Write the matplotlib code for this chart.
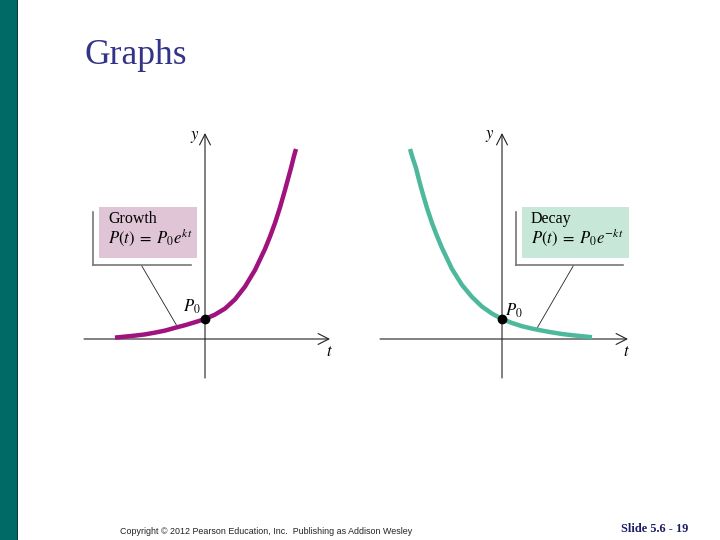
import matplotlib
matplotlib.use("Agg")
from matplotlib import pyplot as plt
from matplotlib.patches import Rectangle

# values (t, P(t)), P0 = 1
growth_t = [-4.5, -4.0, -3.5, -3.0, -2.5, -2.0, -1.5, -1.0, -0.5, 0.0,
            0.5, 1.0, 1.5, 2.0, 2.5, 3.0, 3.25, 3.5, 3.75, 4.0, 4.15, 4.3, 4.45, 4.55]
growth_p = [0.07, 0.12, 0.17, 0.23, 0.32, 0.42, 0.56, 0.69, 0.84, 1.0,
            1.22, 1.52, 1.98, 2.62, 3.45, 4.5, 5.12, 5.8, 6.58, 7.45, 8.0, 8.55, 9.15, 9.5]

decay_t = [-4.6, -4.45, -4.3, -4.15, -4.0, -3.75, -3.5, -3.25, -3.0, -2.5, -2.0, -1.5,
           -1.0, -0.5, 0.0, 0.5, 1.0, 1.5, 2.0, 2.5, 3.0, 3.5, 4.0, 4.5]
decay_p = [9.5, 9.0, 8.55, 7.95, 7.4, 6.55, 5.8, 5.15, 4.55, 3.5, 2.7, 2.1,
           1.62, 1.27, 1.0, 0.8, 0.64, 0.52, 0.42, 0.33, 0.25, 0.19, 0.14, 0.09]

p0 = 1.0

plt.rcParams["mathtext.fontset"] = "stix"
SERIF = "Liberation Serif"


def ejes(ax, xmin, xmax, ymin, ymax):
    flecha = dict(arrowstyle="->,head_length=0.55,head_width=0.28", lw=0.8,
                  color="#222222", shrinkA=0, shrinkB=0, mutation_scale=14)
    ax.annotate("", xy=(xmax, 0), xytext=(xmin, 0), arrowprops=flecha)
    ax.annotate("", xy=(0, ymax), xytext=(0, ymin), arrowprops=flecha)
    ax.set_axis_off()


def cuadro(ax, x0, x1, y0, y1, color, titulo, formula, leader):
    # shadow frame (left and bottom edges)
    ax.plot([x0 - 0.3, x0 - 0.3], [y0 - 0.33, y1 - 0.25], color="#777777", lw=1.2)
    ax.plot([x0 - 0.3, x1 - 0.3], [y0 - 0.33, y0 - 0.33], color="#777777", lw=1.2)
    ax.add_patch(Rectangle((x0, y0), x1 - x0, y1 - y0, facecolor=color,
                           edgecolor="none", zorder=2))
    ax.text(x0 + 0.45, 6.0, titulo, family=SERIF, fontsize=11.5,
            va="center", ha="left", zorder=3)
    ax.text(x0 + 0.45, 5.08, formula, fontsize=12, va="center", ha="left", zorder=3)
    ax.plot(leader[0], leader[1], color="#222222", lw=0.6, zorder=1)


fig = plt.figure(figsize=(7.2, 5.4), dpi=100)

# teal side bar
fig.add_artist(Rectangle((0, 0), 17 / 720, 1, transform=fig.transFigure,
                         facecolor="#006b66", edgecolor="none"))
fig.add_artist(Rectangle((17 / 720, 0), 1.2 / 720, 1, transform=fig.transFigure,
                         facecolor="#0d3b38", edgecolor="none"))

fig.text(85 / 720, 1 - 64 / 540, "Graphs", family=SERIF, fontsize=25.5,
         color="#333388", va="baseline", ha="left")

# ---- growth
ax1 = fig.add_axes([80 / 720, 150 / 540, 260 / 720, 265 / 540])
ax1.set_xlim(-6.25, 6.75)
ax1.set_ylim(-2.55, 10.7)
ejes(ax1, -6.05, 6.25, -1.95, 10.3)
ax1.plot(growth_t, growth_p, color="#a0127e", lw=3.2, solid_capstyle="butt",
         solid_joinstyle="round", zorder=4)
ax1.plot([0], [p0], "o", color="black", ms=6, zorder=5)
ax1.text(-0.68, 1.62, r"$P_0$", fontsize=12, ha="center", va="center")
ax1.text(-0.5, 10.15, r"$y$", fontsize=12, ha="center", va="center")
ax1.text(6.2, -0.6, r"$t$", fontsize=12, ha="center", va="center")
cuadro(ax1, -5.29, -0.39, 4.03, 6.6, "#dfc5d5", "Growth",
       r"$P(t)\;=\;P_0e^{kt}$", ([-3.17, -1.42], [3.67, 0.68]))

# ---- decay
ax2 = fig.add_axes([375 / 720, 150 / 540, 265 / 720, 265 / 540])
ax2.set_xlim(-6.35, 6.9)
ax2.set_ylim(-2.55, 10.7)
ejes(ax2, -6.1, 6.3, -1.95, 10.3)
ax2.plot(decay_t, decay_p, color="#4db89c", lw=3.2, solid_capstyle="butt",
         solid_joinstyle="round", zorder=4)
ax2.plot([0], [p0], "o", color="black", ms=6, zorder=5)
ax2.text(0.6, 1.4, r"$P_0$", fontsize=12, ha="center", va="center")
ax2.text(-0.6, 10.2, r"$y$", fontsize=12, ha="center", va="center")
ax2.text(6.2, -0.6, r"$t$", fontsize=12, ha="center", va="center")
cuadro(ax2, 0.98, 6.37, 4.03, 6.6, "#c7e8d8", "Decay",
       r"$P(t)\;=\;P_0e^{-kt}$", ([3.57, 1.74], [3.67, 0.52]))

fig.text(120 / 720, 1 - 531 / 540,
         "Copyright © 2012 Pearson Education, Inc.  Publishing as Addison Wesley",
         family="Liberation Sans", fontsize=6.4, color="#222222",
         va="center", ha="left")
fig.text(688 / 720, 1 - 529 / 540, "Slide 5.6 - 19", family=SERIF,
         fontsize=8.8, fontweight="bold", color="#1a1a66", va="center", ha="right")

fig.savefig("out.png", dpi=100)
